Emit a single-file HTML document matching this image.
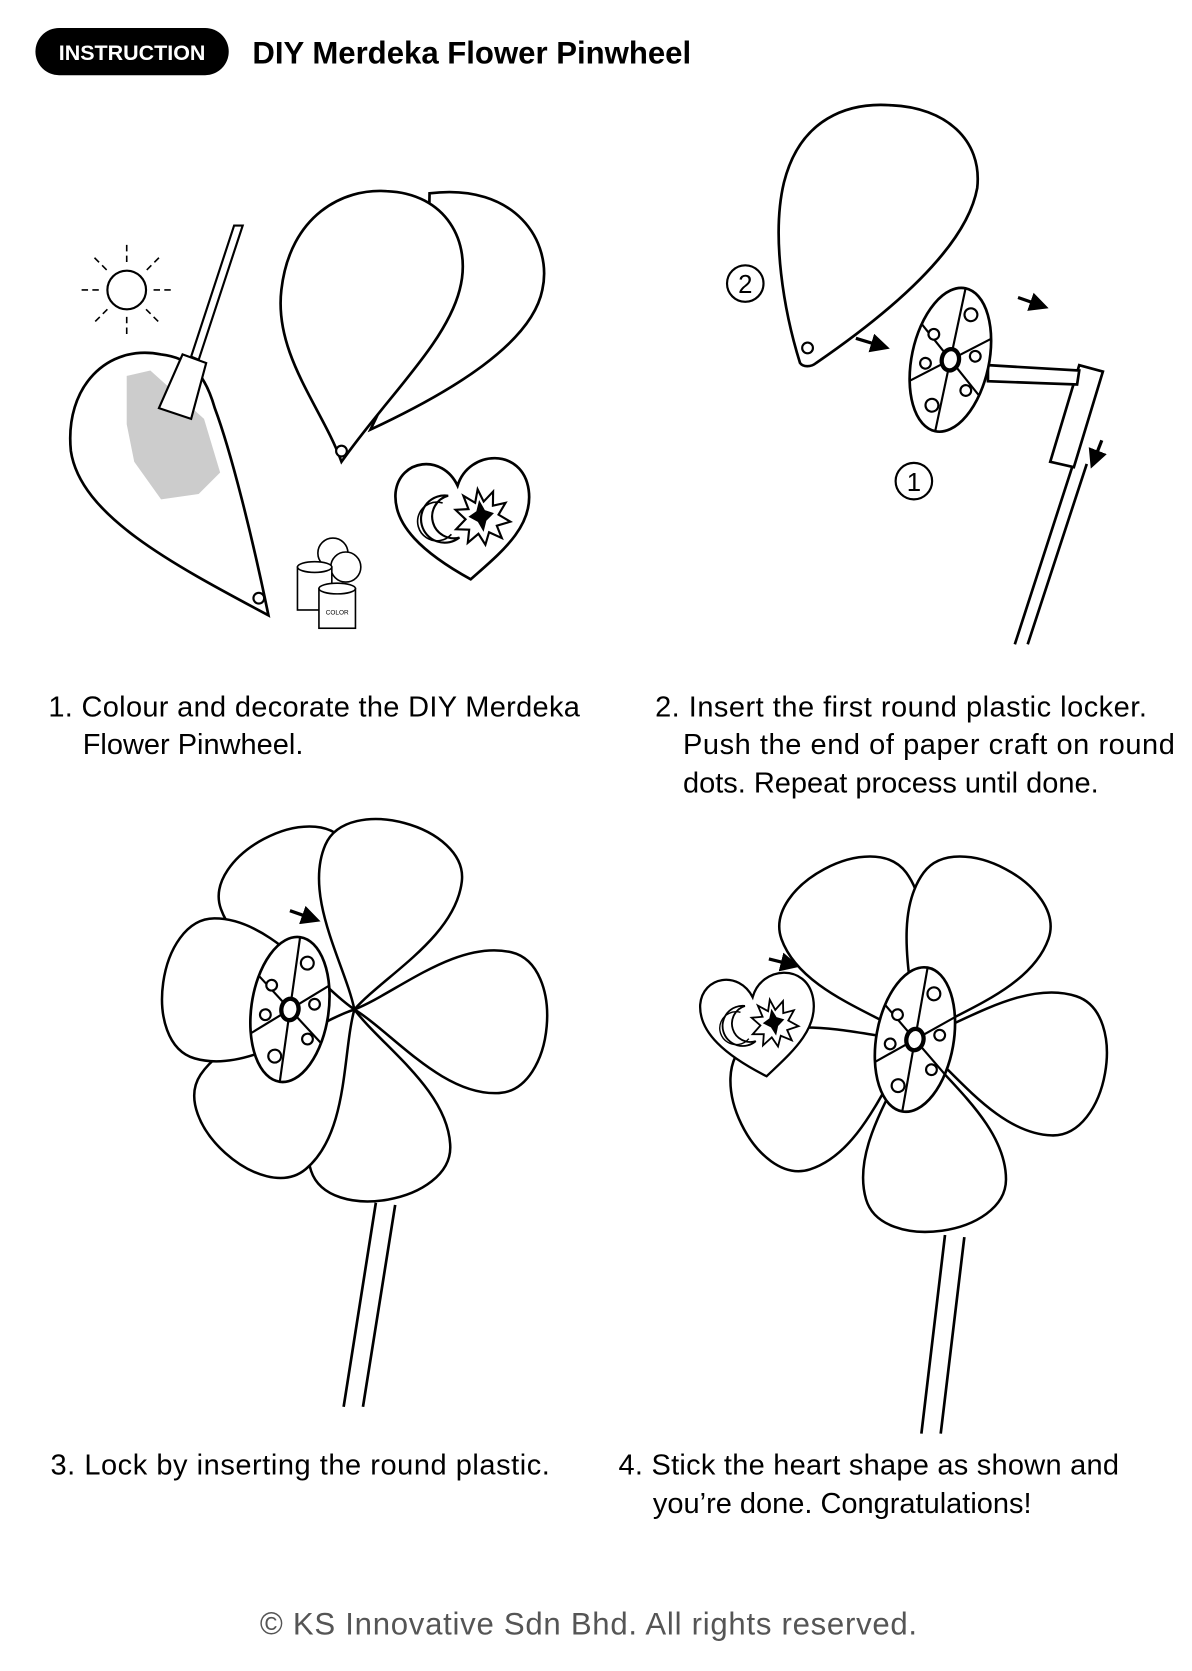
<!DOCTYPE html>
<html><head><meta charset="utf-8"><style>
html,body{margin:0;padding:0;background:#fff;}
svg{display:block;}
text{font-family:"Liberation Sans",sans-serif;}
</style></head><body>
<svg width="1192" height="1671" viewBox="0 0 1110 1556" xmlns="http://www.w3.org/2000/svg">
<defs>
<path id="petal" d="M0,0 C-20,-40 -78,-95 -70,-150 C-62,-205 62,-205 70,-150 C78,-95 20,-40 0,0 Z" fill="#fff" stroke="#000" stroke-width="2.5" transform="scale(0.94)"/>
<marker id="ah" markerWidth="6" markerHeight="6" refX="3" refY="3" orient="auto"><path d="M0,0 L6,3 L0,6 Z" fill="#000"/></marker>
<g id="disk">
<ellipse cx="0" cy="0" rx="36" ry="68" fill="#fff" stroke="#000" stroke-width="2.5"/>
<line x1="0" y1="0" x2="0" y2="-68" stroke="#000" stroke-width="2"/>
<line x1="0" y1="0" x2="0" y2="68" stroke="#000" stroke-width="2"/>
<line x1="0" y1="0" x2="33" y2="-27" stroke="#000" stroke-width="2"/>
<line x1="0" y1="0" x2="-33" y2="-27" stroke="#000" stroke-width="2"/>
<line x1="0" y1="0" x2="33" y2="27" stroke="#000" stroke-width="2"/>
<line x1="0" y1="0" x2="-33" y2="27" stroke="#000" stroke-width="2"/>
<g fill="#fff" stroke="#000" stroke-width="2"><circle cx="10" cy="-45" r="6"/><circle cx="-20" cy="-20" r="5"/><circle cx="22" cy="-8" r="5"/><circle cx="-22" cy="8" r="5"/><circle cx="20" cy="25" r="5"/><circle cx="-8" cy="45" r="6"/></g>
<ellipse cx="0" cy="0" rx="8" ry="10" fill="#fff" stroke="#000" stroke-width="4"/>
</g>
<g id="heart">
<path d="M0,60 C-40,30 -65,0 -58,-30 C-50,-60 -10,-60 0,-28 C15,-60 65,-55 65,-15 C65,20 30,40 0,60 Z" fill="#fff" stroke="#000" stroke-width="2.5"/>
<path d="M-10,-20 A22,22 0 1 0 -5,20 A18,18 0 1 1 -10,-20 Z" fill="none" stroke="#000" stroke-width="2"/>
<path d="M-16,-14 A18,18 0 1 0 -12,16" fill="none" stroke="#000" stroke-width="1.5"/>
<polygon points="18,-22 22,-10 32,-18 30,-5 42,-6 34,4 44,12 31,14 34,26 23,19 18,30 13,19 2,26 5,14 -7,12 3,4 -5,-6 7,-5 4,-18 14,-10" fill="#fff" stroke="#000" stroke-width="2"/>
<polygon points="18,-12 22,-2 30,2 22,8 18,18 14,8 6,2 14,-2" fill="#000"/>
</g>
</defs>

<rect x="33" y="26" width="180" height="44" rx="22" fill="#000"/>
<text x="123" y="56" font-size="20" font-weight="bold" fill="#fff" text-anchor="middle">INSTRUCTION</text>
<text x="235" y="59" font-size="29" font-weight="bold">DIY Merdeka Flower Pinwheel</text>

<circle cx="118" cy="270" r="18" fill="none" stroke="#000" stroke-width="2"/>
<g stroke="#000" stroke-width="1.5" stroke-dasharray="6,4">
<line x1="118" y1="228" x2="118" y2="245"/><line x1="118" y1="295" x2="118" y2="312"/>
<line x1="76" y1="270" x2="93" y2="270"/><line x1="143" y1="270" x2="160" y2="270"/>
<line x1="88" y1="240" x2="100" y2="252"/><line x1="136" y1="288" x2="148" y2="300"/>
<line x1="148" y1="240" x2="136" y2="252"/><line x1="100" y1="288" x2="88" y2="300"/>
</g>
<path d="M150,330 C100,320 60,360 66,420 C75,480 160,525 250,573 C235,500 215,420 200,380 C190,345 175,333 150,330 Z" fill="#fff" stroke="#000" stroke-width="2.5"/>
<circle cx="241" cy="557" r="5" fill="#fff" stroke="#000" stroke-width="2"/>
<path d="M118,350 L140,345 L190,390 L205,440 L185,460 L150,465 L125,430 L118,395 Z" fill="#ccc"/>
<path d="M218,210 L226,210 L185,335 L178,332 Z" fill="#fff" stroke="#000" stroke-width="2"/>
<path d="M170,330 L192,338 L178,390 L148,380 Z" fill="#fff" stroke="#000" stroke-width="2"/>
<path d="M400,180 C480,170 515,225 505,270 C495,320 420,365 345,400 C380,330 400,250 400,180 Z" fill="#fff" stroke="#000" stroke-width="2.5"/>
<path d="M318,430 C300,380 255,330 262,270 C270,200 320,175 360,178 C415,180 440,225 428,270 C415,320 360,370 318,430 Z" fill="#fff" stroke="#000" stroke-width="2.5"/>
<circle cx="318" cy="420" r="5" fill="#fff" stroke="#000" stroke-width="2"/>
<g transform="translate(430,480) rotate(-8)"><use href="#heart"/></g>
<g fill="#fff" stroke="#000" stroke-width="1.5">
<circle cx="310" cy="515" r="14"/><circle cx="322" cy="528" r="14"/>
<rect x="277" y="528" width="32" height="40"/><ellipse cx="293" cy="528" rx="16" ry="5"/>
<rect x="297" y="548" width="34" height="37"/><ellipse cx="314" cy="548" rx="17" ry="5"/>
</g>
<text x="314" y="572" font-size="6" text-anchor="middle">COLOR</text>

<path d="M745,338 C730,290 718,220 730,170 C745,110 790,95 830,98 C880,100 915,130 910,175 C900,230 830,290 760,338 C755,342 748,342 745,338 Z" fill="#fff" stroke="#000" stroke-width="2.5"/>
<circle cx="752" cy="324" r="5" fill="#fff" stroke="#000" stroke-width="2"/>
<circle cx="694" cy="264" r="17" fill="none" stroke="#000" stroke-width="2"/>
<text x="694" y="273" font-size="24" text-anchor="middle">2</text>
<circle cx="851" cy="448" r="17" fill="none" stroke="#000" stroke-width="2"/>
<text x="851" y="457" font-size="24" text-anchor="middle">1</text>
<path d="M1000,430 L945,600 M1012,432 L957,600" stroke="#000" stroke-width="2.5" fill="none"/>
<path d="M1005,340 L1027,346 L1000,435 L978,430 Z" fill="#fff" stroke="#000" stroke-width="2.5"/>
<path d="M920,340 L1005,345 L1003,358 L920,355 Z" fill="#fff" stroke="#000" stroke-width="2.5"/>
<g transform="translate(885,335) rotate(12)"><use href="#disk"/></g>
<g stroke="#000" stroke-width="3" marker-end="url(#ah)">
<line x1="797" y1="315" x2="820" y2="322"/><line x1="948" y1="277" x2="968" y2="284"/><line x1="1026" y1="410" x2="1019" y2="428"/>
</g>

<g font-size="27">
<text x="45" y="667" textLength="495">1. Colour and decorate the DIY Merdeka</text>
<text x="77" y="702">Flower Pinwheel.</text>
<text x="610" y="667" textLength="458">2. Insert the first round plastic locker.</text>
<text x="636" y="702" textLength="458">Push the end of paper craft on round</text>
<text x="636" y="738">dots. Repeat process until done.</text>
<text x="47" y="1373" textLength="465">3. Lock by inserting the round plastic.</text>
<text x="576" y="1373" textLength="466">4. Stick the heart shape as shown and</text>
<text x="608" y="1409">you’re done. Congratulations!</text>
</g>
<text x="548" y="1522" font-size="29" fill="#555" text-anchor="middle" textLength="612">© KS Innovative Sdn Bhd.  All rights reserved.</text>

<path d="M350,1120 L320,1310 M368,1122 L338,1310" stroke="#000" stroke-width="2.5"/>
<g transform="translate(330,940)">
<use href="#petal" transform="rotate(-28)"/>
<use href="#petal" transform="rotate(15)"/>
<use href="#petal" transform="rotate(95)"/>
<use href="#petal" transform="rotate(170)"/>
<use href="#petal" transform="rotate(222)"/>
<use href="#petal" transform="rotate(278)"/>
</g>
<g transform="translate(270,940) rotate(8)"><use href="#disk"/></g>
<line x1="270" y1="848" x2="290" y2="855" stroke="#000" stroke-width="3" marker-end="url(#ah)"/>

<path d="M880,1150 L858,1335 M898,1152 L876,1335" stroke="#000" stroke-width="2.5"/>
<g transform="translate(852,968)">
<use href="#petal" transform="rotate(-28)"/>
<use href="#petal" transform="rotate(28)"/>
<use href="#petal" transform="rotate(100)"/>
<use href="#petal" transform="rotate(172)"/>
<use href="#petal" transform="rotate(244)"/>
</g>
<g transform="translate(852,968) rotate(10)"><use href="#disk"/></g>
<g transform="translate(705,952) rotate(-10) scale(0.85)"><use href="#heart"/></g>
<line x1="716" y1="893" x2="736" y2="898" stroke="#000" stroke-width="3" marker-end="url(#ah)"/>
</svg>
</body></html>
